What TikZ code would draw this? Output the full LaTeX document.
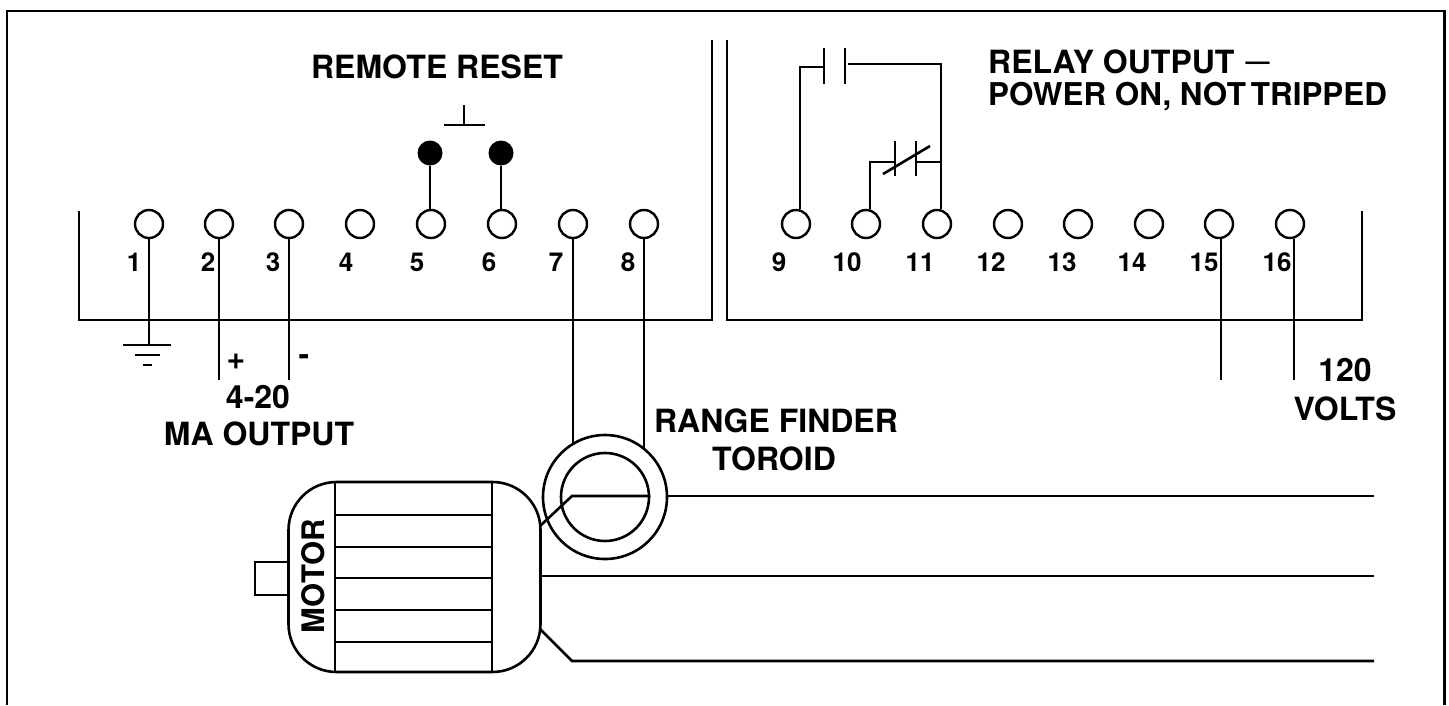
\documentclass[tikz,border=0pt]{standalone}
\usepackage{fontspec}
\setmainfont{TeX Gyre Heros}
\usepackage{tikz}
\tikzset{
  wire/.style={line width=2.6pt},
  terminal/.style={circle,draw,line width=2.4pt,fill=white,minimum size=28pt,inner sep=0pt},
  dot/.style={circle,fill=black,minimum size=25pt,inner sep=0pt},
  toroid/.style={circle,draw,line width=2.6pt,fill=white,inner sep=0pt},
  caption/.style={font=\fontsize{32}{34}\selectfont\bfseries,inner sep=0pt,align=center},
  number/.style={font=\fontsize{26}{28}\selectfont\bfseries,inner sep=0pt}
}

\begin{document}
\begin{tikzpicture}[x=1pt,y=-1pt]
  \useasboundingbox (0,0) rectangle (1449,705);
  % outer frame, open at the bottom
  \coordinate (fa) at (7,705);
  \coordinate (fb) at (7,11);
  \coordinate (fc) at (1444.5,11);
  \coordinate (fd) at (1444.5,705);
  \draw[wire] (fa) -- (fb) -- (fc) -- (fd);
  % terminal strips
  \coordinate (la) at (79,211);
  \coordinate (lb) at (79,320);
  \coordinate (lc) at (712,320);
  \coordinate (ld) at (712,40);
  \coordinate (ra) at (727,40);
  \coordinate (rb) at (727,320);
  \coordinate (rc) at (1362,320);
  \coordinate (rd) at (1362,211);
  \draw[wire] (la) -- (lb) -- (lc) -- (ld);
  \draw[wire] (ra) -- (rb) -- (rc) -- (rd);
  \foreach \n/\x/\lx in {1/149/134,2/219/208,3/289/273,4/360/346,5/431/417,6/502/489,7/573/556,8/644/628,
    9/796/779,10/866/847,11/937/920,12/1008/991,13/1078/1062,14/1149/1132,15/1219/1204,16/1290/1277}{
    \node[terminal] (t\n) at (\x,224) {};
    \node[number] (n\n) at (\lx,262) {\n};
  }
  % ground and analog output
  \coordinate (gnd) at (149,345);
  \coordinate (gnda) at (123,345);
  \coordinate (gndb) at (171,345);
  \coordinate (gndc) at (135,355);
  \coordinate (gndd) at (160,355);
  \coordinate (gnde) at (143,365);
  \coordinate (gndf) at (152,365);
  \draw[wire] (t1) -- (gnd);
  \draw[wire] (gnda) -- (gndb);
  \draw[wire] (gndc) -- (gndd);
  \draw[wire] (gnde) -- (gndf);
  \coordinate (ma) at (219,380);
  \coordinate (mb) at (289,380);
  \draw[wire] (t2) -- (ma);
  \draw[wire] (t3) -- (mb);
  \node[caption] (plus) at (236,362) {+};
  \node[caption] (minus) at (304,360) {-};
  \node[caption] (ma20) at (258,397.5) {4-20};
  \node[caption] (maout) at (259,434) {MA OUTPUT};
  % remote reset
  \node[caption] (reset) at (437,67) {REMOTE RESET};
  \node[dot] (d5) at (430,153) {};
  \node[dot] (d6) at (501,153) {};
  \draw[wire] (d5) -- (d5 |- t5.north);
  \draw[wire] (d6) -- (d6 |- t6.north);
  \coordinate (pba) at (444,125);
  \coordinate (pbb) at (485,125);
  \coordinate (pbc) at (464,125);
  \coordinate (pbd) at (464,105);
  \draw[wire] (pba) -- (pbb);
  \draw[wire] (pbc) -- (pbd);
  % relay contacts
  \coordinate (ka) at (824,48);
  \coordinate (kb) at (824,84);
  \coordinate (kc) at (845,48);
  \coordinate (kd) at (845,84);
  \coordinate (ke) at (824,67);
  \coordinate (kf) at (848,64);
  \coordinate (kg) at (941,64);
  \draw[wire] (ka) -- (kb);
  \draw[wire] (kc) -- (kd);
  \draw[wire] (t9.75) |- (ke);
  \draw[wire] (kf) -| (t11.75);
  \coordinate (ja) at (895,141);
  \coordinate (jb) at (895,176);
  \coordinate (jc) at (916,141);
  \coordinate (jd) at (916,176);
  \coordinate (je) at (895,162);
  \coordinate (jf) at (916,162);
  \coordinate (jg) at (941,162);
  \coordinate (jh) at (883,174);
  \coordinate (ji) at (930,146);
  \draw[wire] (ja) -- (jb);
  \draw[wire] (jc) -- (jd);
  \draw[wire] (t10.75) |- (je);
  \draw[wire] (jf) -- (jg);
  \draw[wire] (jh) -- (ji);
  \node[caption,anchor=base west] (relay) at (988,73) {RELAY OUTPUT\kern11pt\raisebox{3.5pt}{\fontsize{24}{24}\selectfont —}};
  \node[caption,anchor=base west,font=\fontsize{31.4}{34}\selectfont\bfseries] (power) at (988,105) {POWER ON, NOT\kern5pt TRIPPED};
  % mains leads
  \coordinate (va) at (1221,380);
  \coordinate (vb) at (1294,380);
  \draw[wire] (va) -- (va |- t15.south);
  \draw[wire] (vb) -- (vb |- t16.south);
  \node[caption] (v120) at (1345,370) {120};
  \node[caption] (volts) at (1345,409) {VOLTS};
  % toroid
  \node[caption] (range) at (776,421) {RANGE FINDER};
  \node[caption] (torname) at (774,459) {TOROID};
  \draw[wire] (t7) -- (573,470);
  \draw[wire] (t8) -- (644,470);
  \node[toroid,minimum size=124pt] (tor) at (605,497) {};
  \node[toroid,minimum size=88pt] (core) at (605,497) {};
  % motor
  \draw[wire] (255,562) rectangle (288,595);
  \node[draw,wire,fill=white,rounded corners=48pt,minimum width=252pt,minimum height=190pt,inner sep=0pt] (motor) at (414.5,577) {};
  \foreach \y in {515,547,578,610,642}
    \draw[wire] (335,\y) -- (492,\y);
  \draw[wire] (335,483) -- (335,671);
  \draw[wire] (492,483) -- (492,671);
  \node[caption,rotate=90,font=\fontsize{31}{32}\selectfont\bfseries] (mname) at (313,576) {MOTOR};
  \coordinate (wa) at (540,526);
  \coordinate (wb) at (572,496);
  \coordinate (wc) at (667,496);
  \coordinate (wd) at (1374,496);
  \coordinate (we) at (540,576);
  \coordinate (wf) at (1374,576);
  \coordinate (wg) at (540,629);
  \coordinate (wh) at (572,661);
  \coordinate (wi) at (1374,661);
  \draw[wire] (wa) -- (wb) -- (wb -| core.east);
  \draw[wire] (wc) -- (wd);
  \draw[wire] (we) -- (wf);
  \draw[wire] (wg) -- (wh) -- (wi);
\end{tikzpicture}
\end{document}
